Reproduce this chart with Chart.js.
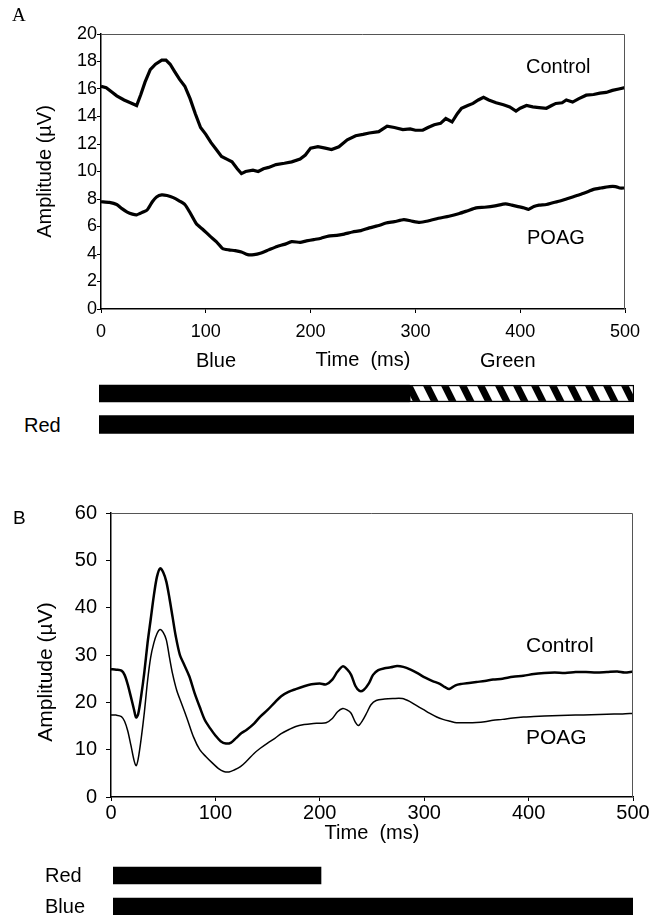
<!DOCTYPE html>
<html>
<head>
<meta charset="utf-8">
<script src="https://cdn.jsdelivr.net/npm/chart.js@4.4.1/dist/chart.umd.min.js"></script>
<style>
  body { margin: 0; background: #fff; }
  #page { position: relative; width: 652px; height: 915px; overflow: hidden;
          font-family: "Liberation Sans", Arial, sans-serif; color: #000; }
  canvas { position: absolute; }
  .lbl { position: absolute; font-size: 20px; line-height: 1; white-space: nowrap; }
  .ytitle { position: absolute; width: 200px; height: 24px; line-height: 24px; text-align: center;
            font-size: 21px; transform: rotate(-90deg); }
</style>
</head>
<body>
<div id="page">
  <canvas id="chartA" width="652" height="372" style="left:0;top:0"></canvas>
  <canvas id="barsA" width="535" height="62" style="left:99px;top:378px"></canvas>
  <canvas id="chartB" width="652" height="375" style="left:0;top:470px"></canvas>
  <canvas id="barsB" width="520" height="62" style="left:113px;top:860px"></canvas>

  <div class="lbl" style="left:12px;top:5px;font-family:'Liberation Serif';font-size:19px">A</div>
  <div class="lbl" style="left:526px;top:56px">Control</div>
  <div class="lbl" style="left:527px;top:227px">POAG</div>
  <div class="lbl" style="left:196px;top:350px">Blue</div>
  <div class="lbl" style="left:480px;top:350px">Green</div>
  <div class="lbl" style="left:24px;top:415px">Red</div>

  <div class="lbl" style="left:13px;top:508px;font-size:19px">B</div>
  <div class="ytitle" style="left:-55px;top:660px">Amplitude (µV)</div>
  <div class="lbl" style="left:526px;top:634px;font-size:21px">Control</div>
  <div class="lbl" style="left:526px;top:726px;font-size:21px">POAG</div>
  <div class="lbl" style="left:45px;top:865px">Red</div>
  <div class="lbl" style="left:45px;top:896px">Blue</div>
</div>
<script>
// Panel A - blue-on-yellow / green stimulus, amplitude in uV vs time in ms
var timeA = [0, 5, 10, 15, 22, 28, 34, 38, 42, 47, 52, 58, 62, 66, 70, 75, 80, 85, 90, 95,
  100, 105, 110, 115, 120, 125, 130, 134, 138, 145, 150, 155, 160, 167, 175, 182, 190, 195,
  200, 207, 214, 220, 227, 235, 243, 250, 256, 265, 273, 280, 288, 295, 300, 307, 312, 318,
  324, 329, 335, 340, 344, 350, 355, 360, 365, 370, 377, 384, 390, 396, 400, 406, 412, 418,
  425, 430, 434, 440, 444, 450, 456, 463, 470, 476, 482, 488, 494, 500];
var controlA = [16.2, 16.1, 15.8, 15.5, 15.2, 15.0, 14.8, 15.6, 16.5, 17.4, 17.8, 18.1, 18.1,
  17.8, 17.3, 16.7, 16.2, 15.3, 14.2, 13.2, 12.7, 12.1, 11.6, 11.1, 10.9, 10.7, 10.2, 9.85,
  10.0, 10.1, 10.0, 10.2, 10.3, 10.5, 10.6, 10.7, 10.9, 11.2, 11.7, 11.8, 11.7, 11.6, 11.8,
  12.3, 12.6, 12.7, 12.8, 12.9, 13.3, 13.2, 13.05, 13.1, 13.0, 13.0, 13.2, 13.4, 13.5, 13.85,
  13.6, 14.2, 14.6, 14.8, 14.95, 15.2, 15.4, 15.2, 15.0, 14.85, 14.7, 14.4, 14.6, 14.8, 14.7,
  14.65, 14.6, 14.8, 14.95, 15.0, 15.2, 15.05, 15.3, 15.55, 15.6, 15.7, 15.75, 15.9, 16.0, 16.1];

var timeA2 = [0, 8, 15, 20, 25, 30, 34, 40, 44, 49, 53, 58, 63, 69, 75, 80, 85, 91, 97, 104,
  110, 116, 122, 128, 134, 140, 146, 152, 160, 168, 175, 182, 190, 196, 203, 210, 217, 225,
  232, 240, 248, 256, 264, 272, 280, 289, 296, 304, 312, 322, 332, 342, 350, 358, 366, 376,
  386, 392, 398, 404, 408, 413, 418, 425, 432, 438, 444, 450, 458, 465, 470, 477, 485, 491,
  495, 500];
var poagA = [7.8, 7.75, 7.6, 7.3, 7.05, 6.9, 6.85, 7.05, 7.2, 7.8, 8.15, 8.3, 8.25, 8.1, 7.85,
  7.6, 7.0, 6.2, 5.8, 5.3, 4.9, 4.4, 4.3, 4.25, 4.15, 3.95, 3.95, 4.05, 4.3, 4.55, 4.7, 4.9,
  4.85, 4.95, 5.05, 5.15, 5.3, 5.35, 5.45, 5.6, 5.7, 5.9, 6.05, 6.25, 6.35, 6.5, 6.4, 6.3, 6.4,
  6.6, 6.75, 6.95, 7.15, 7.35, 7.4, 7.5, 7.65, 7.55, 7.45, 7.35, 7.25, 7.45, 7.55, 7.6, 7.75,
  7.85, 8.0, 8.15, 8.35, 8.55, 8.7, 8.8, 8.9, 8.9, 8.8, 8.8];

// Panel B - red/blue stimulus
var timeB = [0, 5, 10, 13, 16, 19, 22, 24, 26, 29, 32, 35, 38, 41, 44, 47, 50, 53, 56, 59, 62,
  66, 70, 75, 80, 85, 90, 95, 100, 105, 110, 115, 120, 125, 130, 137, 143, 150, 157, 163, 170,
  177, 185, 192, 200, 206, 212, 217, 222, 226, 230, 234, 238, 242, 247, 251, 256, 262, 268,
  274, 280, 287, 294, 301, 308, 315, 320, 324, 330, 336, 343, 350, 358, 366, 375, 385, 395,
  405, 415, 425, 435, 445, 455, 465, 475, 485, 492, 500];
var controlB = [27.0, 26.9, 26.7, 25.8, 23.8, 21.2, 18.5, 16.8, 17.5, 21.5, 26.5, 32.5, 37.5,
  42.5, 46.5, 48.3, 47.5, 45.5, 42.0, 38.0, 34.0, 30.0, 28.0, 25.5, 22.0, 19.0, 16.2, 14.5,
  13.0, 11.8, 11.3, 11.5, 12.5, 13.5, 14.2, 15.5, 17.0, 18.4, 20.0, 21.3, 22.2, 22.8, 23.4,
  23.8, 24.0, 23.8, 24.8, 26.5, 27.6, 27.0, 25.8, 23.5, 22.4, 22.6, 24.0, 25.8, 26.8, 27.2,
  27.4, 27.7, 27.5, 26.9, 26.1, 25.2, 24.5, 23.9, 23.2, 22.8, 23.6, 23.9, 24.1, 24.3, 24.5,
  24.8, 25.0, 25.4, 25.6, 26.0, 26.2, 26.3, 26.2, 26.4, 26.4, 26.3, 26.4, 26.5, 26.3, 26.5];

var timeB2 = [0, 5, 10, 13, 16, 19, 22, 24, 26, 29, 32, 35, 38, 41, 44, 47, 50, 53, 56, 59, 63,
  68, 73, 79, 85, 91, 97, 103, 108, 113, 118, 124, 130, 137, 143, 150, 157, 163, 170, 177,
  185, 192, 200, 206, 212, 217, 222, 226, 230, 234, 237, 241, 245, 249, 254, 262, 270, 279,
  286, 292, 299, 305, 312, 318, 325, 331, 340, 350, 358, 366, 375, 385, 395, 405, 415, 430,
  445, 460, 475, 490, 500];
var poagB = [17.3, 17.3, 17.0, 16.0, 14.0, 11.0, 7.8, 6.6, 8.0, 12.5, 18.0, 24.5, 29.5, 32.5,
  34.5, 35.4, 34.8, 33.2, 29.5, 26.0, 22.5, 19.5, 16.5, 12.7, 10.0, 8.5, 7.2, 6.0, 5.4, 5.3,
  5.7, 6.4, 7.6, 9.2, 10.3, 11.4, 12.4, 13.4, 14.2, 14.9, 15.3, 15.5, 15.6, 15.7, 16.6, 18.0,
  18.7, 18.4, 17.7, 15.8, 15.1, 16.2, 17.8, 19.5, 20.4, 20.7, 20.8, 20.8, 20.2, 19.4, 18.5,
  17.7, 16.9, 16.4, 16.0, 15.7, 15.7, 15.75, 15.9, 16.2, 16.4, 16.7, 16.9, 17.0, 17.1, 17.2,
  17.3, 17.4, 17.5, 17.55, 17.65];

// stimulus timing (ms)
var stimRowsA = ["Blue / Green", "Red"];
var blueOnA = [0, 290];
var greenOnA = [290, 500];
var redOnA = [0, 500];
var stimRowsB = ["Red", "Blue"];
var redOnB = [0, 200];
var blueOnB = [0, 500];

function pts(t, v) {
    return t.map(function (x, i) { return { x: x, y: v[i] }; });
}

// thin frame on top and right of the plot area
var framePlugin = {
    id: "frame",
    afterDraw: function (chart) {
        var a = chart.chartArea, ctx = chart.ctx;
        ctx.save();
        ctx.strokeStyle = "#555";
        ctx.lineWidth = 1;
        ctx.beginPath();
        ctx.moveTo(a.left, a.top + 0.5);
        ctx.lineTo(a.right - 0.5, a.top + 0.5);
        ctx.lineTo(a.right - 0.5, a.bottom);
        ctx.stroke();
        ctx.restore();
    }
};

var font = "'Liberation Sans', Arial, sans-serif";

function lineOptions(o) {
    return {
        responsive: false,
        animation: false,
        layout: { padding: o.padding },
        plugins: { legend: { display: false }, tooltip: { enabled: false } },
        scales: {
            x: {
                type: "linear", min: 0, max: 500,
                ticks: { stepSize: 100, color: "#000", font: { family: font, size: o.tickSize }, padding: o.xPad, maxRotation: 0 },
                grid: { drawOnChartArea: false, tickLength: 4, color: "#000" },
                border: { color: "#000", width: 1.5 },
                title: { display: true, text: "Time  (ms)", color: "#000", font: { family: font, size: 20 }, padding: 0 },
                afterFit: function (s) { s.height = o.xHeight; }
            },
            y: {
                min: 0, max: o.yMax,
                ticks: { stepSize: o.yStep, color: "#000", font: { family: font, size: o.tickSize }, padding: o.yPad },
                grid: { drawOnChartArea: false, tickLength: o.yTick, color: "#000" },
                border: { color: "#000", width: 1.5 },
                title: { display: o.yTitle, text: "Amplitude (µV)", color: "#000", font: { family: font, size: 20 }, padding: 0 },
                afterFit: function (s) { s.width = o.yWidth; }
            }
        }
    };
}

new Chart("chartA", {
    type: "line",
    data: {
        datasets: [
            { label: "Control", data: pts(timeA, controlA), borderColor: "#000", borderWidth: 3.2, pointRadius: 0, tension: 0 },
            { label: "POAG", data: pts(timeA2, poagA), borderColor: "#000", borderWidth: 3.2, pointRadius: 0, tension: 0.2 }
        ]
    },
    options: lineOptions({ padding: { left: 33, top: 34, right: 27, bottom: 0 }, tickSize: 18, xPad: 8, xHeight: 63,
        yMax: 20, yStep: 2, yPad: 0, yTick: 4, yWidth: 68, yTitle: true }),
    plugins: [framePlugin]
});

new Chart("chartB", {
    type: "line",
    data: {
        datasets: [
            { label: "Control", data: pts(timeB, controlB), borderColor: "#000", borderWidth: 2.5, pointRadius: 0, tension: 0.3 },
            { label: "POAG", data: pts(timeB2, poagB), borderColor: "#000", borderWidth: 1.5, pointRadius: 0, tension: 0.3 }
        ]
    },
    options: lineOptions({ padding: { left: 32, top: 43, right: 19, bottom: 0 }, tickSize: 20, xPad: 0, xHeight: 48,
        yMax: 60, yStep: 10, yPad: 9, yTick: 5, yWidth: 79, yTitle: false }),
    plugins: [framePlugin]
});

// hatched fill for the green stimulus
var tile = document.createElement("canvas");
tile.width = 18; tile.height = 36;
var tctx = tile.getContext("2d");
tctx.fillStyle = "#fff";
tctx.fillRect(0, 0, 18, 36);
tctx.strokeStyle = "#000";
tctx.lineWidth = 7;
[-18, 0, 18].forEach(function (x0) {
    tctx.beginPath();
    tctx.moveTo(x0, 0);
    tctx.lineTo(x0 + 18, 36);
    tctx.stroke();
});
var hatch = tctx.createPattern(tile, "repeat");

function barOptions() {
    return {
        indexAxis: "y",
        responsive: false,
        animation: false,
        layout: { padding: 0 },
        plugins: { legend: { display: false }, tooltip: { enabled: false } },
        scales: {
            x: { type: "linear", min: 0, max: 500, display: false },
            y: { display: false }
        }
    };
}

new Chart("barsA", {
    type: "bar",
    data: {
        labels: stimRowsA,
        datasets: [
            { data: [blueOnA, null], backgroundColor: "#000", grouped: false, barThickness: 17 },
            { data: [greenOnA, null], backgroundColor: hatch, borderColor: "#000", borderWidth: 1.5, borderSkipped: false, grouped: false, barThickness: 17 },
            { data: [null, redOnA], backgroundColor: "#000", grouped: false, barThickness: 18 }
        ]
    },
    options: barOptions()
});

new Chart("barsB", {
    type: "bar",
    data: {
        labels: stimRowsB,
        datasets: [
            { data: [redOnB, null], backgroundColor: "#000", grouped: false, barThickness: 17 },
            { data: [null, blueOnB], backgroundColor: "#000", grouped: false, barThickness: 17 }
        ]
    },
    options: barOptions()
});
</script>
</body>
</html>
